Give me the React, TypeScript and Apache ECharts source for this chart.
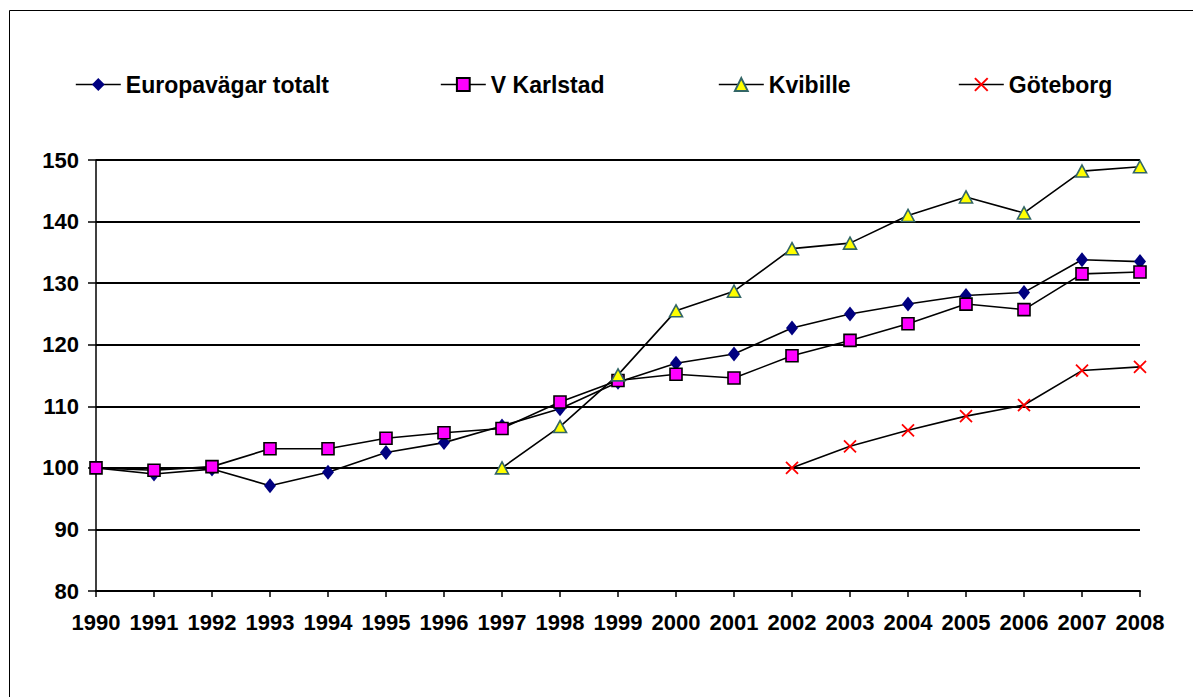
import React, { useEffect, useRef } from "react";
import * as echarts from "echarts";

const years = ["1990", "1991", "1992", "1993", "1994", "1995", "1996", "1997", "1998", "1999", "2000", "2001", "2002", "2003", "2004", "2005", "2006", "2007", "2008"];

const seriesNames = ["Europavägar totalt", "V Karlstad", "Kvibille", "Göteborg"];

const europavagar = [100, 99.0, 99.8, 97.1, 99.3, 102.5, 104.1, 106.8, 109.6, 113.9, 117.0, 118.5, 122.7, 125.0, 126.6, 128.0, 128.5, 133.8, 133.5];
const karlstad = [100, 99.6, 100.2, 103.1, 103.1, 104.8, 105.7, 106.4, 110.7, 114.2, 115.2, 114.6, 118.2, 120.7, 123.4, 126.6, 125.7, 131.5, 131.8];
const kvibille = [null, null, null, null, null, null, null, 100, 106.7, 115.1, 125.5, 128.7, 135.6, 136.5, 141.0, 144.0, 141.4, 148.2, 148.9];
const goteborg = [null, null, null, null, null, null, null, null, null, null, null, null, 100, 103.5, 106.1, 108.4, 110.2, 115.8, 116.4];

const yMin = 80;
const yMax = 150;
const yStep = 10;

const FONT = "'Liberation Sans', Arial, sans-serif";
const legendLefts = [75, 440, 718, 958];

export default function App() {
  const ref = useRef<HTMLDivElement>(null);

  useEffect(() => {
    if (!ref.current) return;
    const chart = echarts.init(ref.current, null, { renderer: "svg" });
    const line = { color: "#000", width: 1.6 };
    chart.setOption({
      animation: false,
      backgroundColor: "#fff",
      textStyle: { fontFamily: FONT },
      graphic: [
        {
          type: "rect",
          shape: { x: 9.5, y: 10.5, width: 1300, height: 800 },
          style: { fill: "none", stroke: "#000", lineWidth: 1 },
          silent: true,
          z: -1,
        },
      ],
      legend: seriesNames.map((n, i) => ({
        left: legendLefts[i],
        top: 73,
        padding: 0,
        itemWidth: 45,
        itemHeight: 16,
        data: [n],
        lineStyle: { color: "#000", width: 1.6 },
        textStyle: { fontFamily: FONT, fontSize: 23, fontWeight: "bold", color: "#000" },
      })),
      grid: { left: 96, right: 53, top: 160, bottom: 106, containLabel: false },
      xAxis: {
        type: "category",
        data: years,
        boundaryGap: false,
        axisLine: { lineStyle: { color: "#000", width: 2 } },
        axisTick: { show: true, length: 6, lineStyle: { color: "#000", width: 1.5 } },
        axisLabel: { fontFamily: FONT, fontSize: 22, fontWeight: "bold", color: "#000", margin: 20, interval: 0 },
        splitLine: { show: false },
      },
      yAxis: {
        type: "value",
        min: yMin,
        max: yMax,
        interval: yStep,
        axisLine: { show: true, lineStyle: { color: "#000", width: 1.5 } },
        axisTick: { show: true, length: 8, lineStyle: { color: "#000", width: 1.5 } },
        axisLabel: { fontFamily: FONT, fontSize: 22, fontWeight: "bold", color: "#000", margin: 17 },
        splitLine: { show: true, lineStyle: { color: "#000", width: 2 } },
      },
      series: [
        {
          name: seriesNames[0],
          type: "line",
          data: europavagar,
          symbol: "diamond",
          symbolSize: [12, 15],
          lineStyle: line,
          itemStyle: { color: "#000080" },
        },
        {
          name: seriesNames[1],
          type: "line",
          data: karlstad,
          symbol: "rect",
          symbolSize: 12,
          lineStyle: line,
          itemStyle: { color: "#FF00FF", borderColor: "#000", borderWidth: 1.6 },
        },
        {
          name: seriesNames[2],
          type: "line",
          data: kvibille,
          symbol: "triangle",
          symbolSize: [13, 12],
          lineStyle: line,
          itemStyle: { color: "#FFFF00", borderColor: "#336666", borderWidth: 1.6 },
        },
        {
          name: seriesNames[3],
          type: "line",
          data: goteborg,
          symbol: "path://M0,0L10,10M10,0L0,10",
          symbolSize: 12,
          lineStyle: line,
          itemStyle: { color: "#FF0000", borderColor: "#FF0000", borderWidth: 1.8 },
        },
      ],
    });
    return () => chart.dispose();
  }, []);

  return <div ref={ref} style={{ position: "fixed", left: 0, top: 0, width: 1193, height: 697 }} />;
}
